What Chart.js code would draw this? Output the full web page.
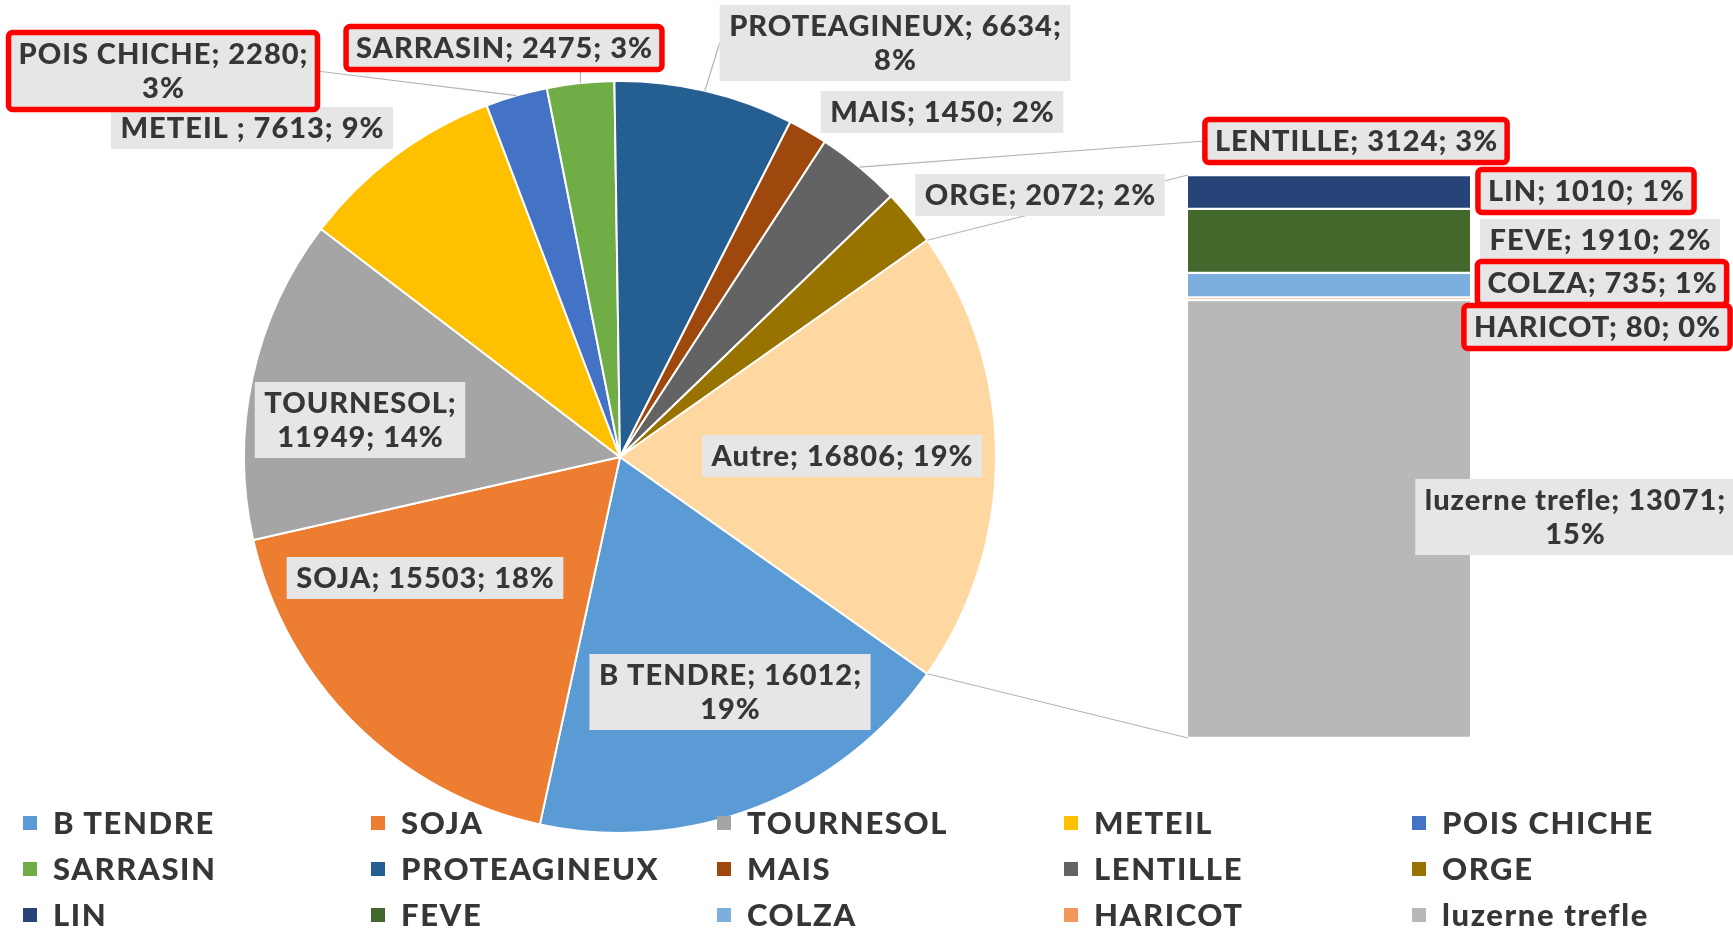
<!DOCTYPE html>
<html>
<head>
<meta charset="utf-8">
<script src="https://cdn.jsdelivr.net/npm/chart.js@4.4.0/dist/chart.umd.min.js"></script>
<style>
html,body{margin:0;padding:0;background:#ffffff;width:1733px;height:928px;overflow:hidden;}
#wrap{position:relative;width:1733px;height:928px;}
canvas{position:absolute;left:0;top:0;}
.leg{position:absolute;font-family:Lato,"DejaVu Sans",sans-serif;font-weight:900;font-size:31px;line-height:31px;color:#363636;letter-spacing:1.6px;white-space:nowrap;}
.leg i{position:absolute;display:block;width:14px;height:14px;}
.leg span{position:absolute;left:30px;top:0;}
</style>
</head>
<body>
<div id="wrap">
  <canvas id="pie" width="1733" height="928"></canvas>
  <canvas id="bar" width="1733" height="928"></canvas>
  <div id="legend"></div>
</div>
<script>
// ---------- DATA ----------
const pieLabels = ['B TENDRE','SOJA','TOURNESOL','METEIL ','POIS CHICHE','SARRASIN','PROTEAGINEUX','MAIS','LENTILLE','ORGE','Autre'];
const pieValues = [16012,15503,11949,7613,2280,2475,6634,1450,3124,2072,16806];
const piePercents = [19,18,14,9,3,3,8,2,3,2,19];

const barLabels = ['LIN','FEVE','COLZA','HARICOT','luzerne trefle'];
const barValues = [1010,1910,735,80,13071];
const barPercents = [1,2,1,0,15];

const legendLabels = ['B TENDRE','SOJA','TOURNESOL','METEIL','POIS CHICHE','SARRASIN','PROTEAGINEUX','MAIS','LENTILLE','ORGE','LIN','FEVE','COLZA','HARICOT','luzerne trefle'];

// ---------- STYLE ----------
const pieColors = ['#5b9bd5','#ed7d31','#a5a5a5','#ffc000','#4472c4','#70ad47','#255e91','#9e480e','#636363','#997300','#fed8a0'];
const barColors = ['#264478','#43682b','#7cafdd','#f1975a','#b8b8b8'];
const legendColors = pieColors.slice(0,10).concat(barColors);

// label layout (centre of box, line wrap mode, red outline, leader line)
const pieLabelLayout = [
  {cx:730, cy:692, wrap:2},
  {cx:425, cy:578},
  {cx:360, cy:420, wrap:1},
  {cx:252, cy:128},
  {cx:163, cy:71, wrap:2, red:true, leader:true},
  {cx:504, cy:48, red:true, leader:true},
  {cx:895, cy:43, wrap:2, leader:true},
  {cx:942, cy:112},
  {cx:1356, cy:141, red:true, leader:true},
  {cx:1040, cy:195},
  {cx:842, cy:456}
];
const barLabelLayout = [
  {cx:1586, cy:191, red:true},
  {cx:1600, cy:240},
  {cx:1602, cy:283, red:true},
  {cx:1597, cy:327, red:true},
  {cx:1575, cy:517, wrap:2}
];

const FONT = '900 29px Lato, "DejaVu Sans", sans-serif';
const LETTER_SP = '1px';
const TEXT_COLOR = '#363636';
const BOX_BG = '#e7e6e6';
const LINE_COLOR = '#b4b4b4';

// ---------- PIE ----------
const pieTotal = pieValues.reduce((a,b)=>a+b,0);
const otherIdx = pieValues.length - 1;
const pieRotation = 90 + 180 * pieValues[otherIdx] / pieTotal;

const pieChart = new Chart(document.getElementById('pie'), {
  type: 'pie',
  data: {
    labels: pieLabels,
    datasets: [{data: pieValues, backgroundColor: pieColors, borderColor: '#ffffff', borderWidth: 2}]
  },
  options: {
    responsive: false,
    animation: false,
    events: [],
    rotation: pieRotation,
    layout: {padding: {left: 243, top: 80, right: 736, bottom: 94}},
    plugins: {legend: {display: false}, tooltip: {enabled: false}}
  }
});

// ---------- LABEL HELPERS ----------
function labelLines(name, value, pct, wrap){
  if (wrap === 1) return [name + ';', value + '; ' + pct + '%'];
  if (wrap === 2) return [name + '; ' + value + ';', pct + '%'];
  return [name + '; ' + value + '; ' + pct + '%'];
}
function setFont(ctx){
  ctx.font = FONT;
  try { ctx.letterSpacing = LETTER_SP; } catch(e) {}
}
function boxSize(ctx, lines){
  setFont(ctx);
  let w = 0;
  lines.forEach(l => { w = Math.max(w, ctx.measureText(l).width); });
  return {w: w + 18, h: lines.length * 34 + 8};
}
function drawLabel(ctx, lines, lay){
  const s = boxSize(ctx, lines);
  const x = lay.cx - s.w/2, y = lay.cy - s.h/2;
  ctx.fillStyle = BOX_BG;
  ctx.fillRect(x, y, s.w, s.h);
  if (lay.red){
    ctx.strokeStyle = '#ff0000';
    ctx.lineWidth = 5.5;
    ctx.beginPath();
    if (ctx.roundRect) ctx.roundRect(x - 0.5, y - 0.5, s.w + 1, s.h + 1, 4); else ctx.rect(x - 0.5, y - 0.5, s.w + 1, s.h + 1);
    ctx.stroke();
  }
  setFont(ctx);
  ctx.fillStyle = TEXT_COLOR;
  ctx.textAlign = 'center';
  ctx.textBaseline = 'middle';
  lines.forEach((l, i) => {
    ctx.fillText(l, lay.cx + 0.5, y + 4 + 34 * (i + 0.5) + 1);
  });
}

const labelPlugin = {
  id: 'pieOfBarLabels',
  afterDraw(chart){
    const ctx = chart.ctx;
    ctx.save();
    const pieMeta = pieChart.getDatasetMeta(0);
    const other = pieMeta.data[otherIdx].getProps(['x','y','startAngle','endAngle','outerRadius'], true);
    const nSets = chart.data.datasets.length;
    const topEl = chart.getDatasetMeta(nSets - 1).data[0];
    const botEl = chart.getDatasetMeta(0).data[0];
    const barLeft = topEl.x - topEl.width / 2;

    // connectors pie -> bar
    ctx.strokeStyle = LINE_COLOR;
    ctx.lineWidth = 1.2;
    ctx.beginPath();
    ctx.moveTo(other.x + other.outerRadius * Math.cos(other.startAngle), other.y + other.outerRadius * Math.sin(other.startAngle));
    ctx.lineTo(barLeft, topEl.y);
    ctx.moveTo(other.x + other.outerRadius * Math.cos(other.endAngle), other.y + other.outerRadius * Math.sin(other.endAngle));
    ctx.lineTo(barLeft, botEl.base);
    ctx.stroke();

    // leader lines
    pieLabelLayout.forEach((lay, i) => {
      if (!lay.leader) return;
      const a = pieMeta.data[i].getProps(['x','y','startAngle','endAngle','outerRadius'], true);
      const mid = (a.startAngle + a.endAngle) / 2;
      const tx = a.x + a.outerRadius * Math.cos(mid), ty = a.y + a.outerRadius * Math.sin(mid);
      const lines = labelLines(pieLabels[i], pieValues[i], piePercents[i], lay.wrap);
      const s = boxSize(ctx, lines);
      const bx = lay.cx - s.w/2, by = lay.cy - s.h/2;
      let sx, sy;
      if (tx >= bx && tx <= bx + s.w){
        sx = tx; sy = ty > lay.cy ? by + s.h : by;
      } else {
        sx = tx < bx ? bx : bx + s.w; sy = lay.cy;
      }
      ctx.strokeStyle = LINE_COLOR;
      ctx.lineWidth = 1.2;
      ctx.beginPath();
      ctx.moveTo(sx, sy);
      ctx.lineTo(tx, ty);
      ctx.stroke();
    });

    // pie labels
    pieLabelLayout.forEach((lay, i) => {
      drawLabel(ctx, labelLines(pieLabels[i], pieValues[i], piePercents[i], lay.wrap), lay);
    });
    // bar labels
    barLabelLayout.forEach((lay, i) => {
      drawLabel(ctx, labelLines(barLabels[i], barValues[i], barPercents[i], lay.wrap), lay);
    });
    ctx.restore();
  }
};

// ---------- BAR ----------
const barTotal = barValues.reduce((a,b)=>a+b,0);
const barDatasets = barLabels.map((lab, i) => ({
  label: lab,
  data: [barValues[i]],
  backgroundColor: barColors[i],
  borderColor: '#ffffff',
  borderWidth: {top: 1.5, bottom: 1.5, left: 0, right: 0},
  borderSkipped: false,
  barPercentage: 1,
  categoryPercentage: 1
})).reverse();

const barChart = new Chart(document.getElementById('bar'), {
  type: 'bar',
  data: {labels: ['Autre'], datasets: barDatasets},
  options: {
    responsive: false,
    animation: false,
    events: [],
    layout: {padding: {left: 1188, right: 263, top: 175, bottom: 190}},
    scales: {
      x: {stacked: true, display: false},
      y: {stacked: true, display: false, min: 0, max: barTotal}
    },
    plugins: {legend: {display: false}, tooltip: {enabled: false}}
  },
  plugins: [labelPlugin]
});

// ---------- LEGEND ----------
const legCols = [23, 371, 717, 1064, 1412];
const legBaselines = [834, 880, 926];
const legEl = document.getElementById('legend');
legendLabels.forEach((lab, i) => {
  const col = i % 5, row = Math.floor(i / 5);
  const d = document.createElement('div');
  d.className = 'leg';
  d.style.left = legCols[col] + 'px';
  d.style.top = (legBaselines[row] - 27) + 'px';
  const m = document.createElement('i');
  m.style.background = legendColors[i];
  m.style.top = '9px';
  const s = document.createElement('span');
  s.textContent = lab;
  d.appendChild(m); d.appendChild(s);
  legEl.appendChild(d);
});
</script>
</body>
</html>
